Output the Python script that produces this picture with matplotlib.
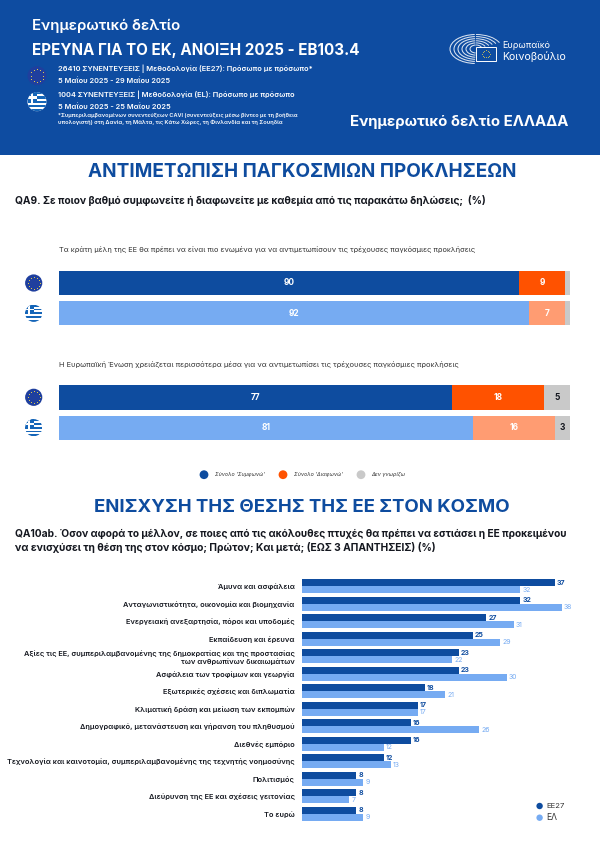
import matplotlib
matplotlib.use("Agg")
import matplotlib.pyplot as plt
from matplotlib.patches import Rectangle, Circle, Arc
import numpy as np

plt.rcParams['font.family'] = ['Inter', 'Noto Sans', 'DejaVu Sans']

# ---------- data ----------
q9_statements = [
    "Τα κράτη μέλη της ΕΕ θα πρέπει να είναι πιο ενωμένα για να αντιμετωπίσουν τις τρέχουσες παγκόσμιες προκλήσεις",
    "Η Ευρωπαϊκή Ένωση χρειάζεται περισσότερα μέσα για να αντιμετωπίσει τις τρέχουσες παγκόσμιες προκλήσεις",
]
agree_eu = [90, 77]
agree_el = [92, 81]
disagree_eu = [9, 18]
disagree_el = [7, 16]
dk_eu = [1, 5]
dk_el = [1, 3]
q9_legend = ["Σύνολο 'Συμφωνώ'", "Σύνολο 'Διαφωνώ'", "Δεν γνωρίζω"]

topics = [
    "Άμυνα και ασφάλεια",
    "Ανταγωνιστικότητα, οικονομία και βιομηχανία",
    "Ενεργειακή ανεξαρτησία, πόροι και υποδομές",
    "Εκπαίδευση και έρευνα",
    "Αξίες τις ΕΕ, συμπεριλαμβανομένης της δημοκρατίας και της προστασίας\nτων ανθρωπίνων δικαιωμάτων",
    "Ασφάλεια των τροφίμων και γεωργία",
    "Εξωτερικές σχέσεις και διπλωματία",
    "Κλιματική δράση και μείωση των εκπομπών",
    "Δημογραφικό, μετανάστευση και γήρανση του πληθυσμού",
    "Διεθνές εμπόριο",
    "Τεχνολογία και καινοτομία, συμπεριλαμβανομένης της τεχνητής νοημοσύνης",
    "Πολιτισμός",
    "Διεύρυνση της ΕΕ και σχέσεις γειτονίας",
    "Το ευρώ",
]
ee27 = [37, 32, 27, 25, 23, 23, 18, 17, 16, 16, 12, 8, 8, 8]
el = [32, 38, 31, 29, 22, 30, 21, 17, 26, 12, 13, 9, 7, 9]
q10_legend = ["ΕΕ27", "ΕΛ"]

# ---------- style ----------
NAVY = "#0E4C9F"
LIGHT = "#76ABF2"
ORANGE = "#FF5200"
LORANGE = "#FF9C72"
GREY = "#C9C9C9"
INK = "#14171F"
W, H = 600, 848

fig = plt.figure(figsize=(6.0, 8.48), dpi=100, facecolor="white")
bg = fig.add_axes([0, 0, 1, 1], zorder=0)
bg.set_xlim(0, W)
bg.set_ylim(H, 0)
bg.axis("off")
renderer = fig.canvas.get_renderer()


def fit_text(x0, x1, y, s, **kw):
    """Put text in pixel space, sized so that it spans x0..x1."""
    t = bg.text(x0, y, s, va="center", ha="left", fontsize=10, **kw)
    width = t.get_window_extent(renderer).width
    t.set_fontsize(10 * (x1 - x0) / width)
    return t


def fit_size(s, px, **kw):
    t = bg.text(0, 0, s, fontsize=10, **kw)
    width = t.get_window_extent(renderer).width
    t.remove()
    return 10 * px / width


def eu_icon(cx, cy, r):
    bg.add_patch(Circle((cx, cy), r, fc="#1F3F9E", ec="none", zorder=3))
    ang = np.deg2rad(np.arange(0, 360, 30))
    bg.scatter(cx + 0.68 * r * np.cos(ang), cy + 0.68 * r * np.sin(ang),
               s=0.5, c="#E9D24A", linewidths=0, zorder=4)


def gr_icon(cx, cy, r):
    disc = Circle((cx, cy), r, fc="white", ec="none", zorder=3)
    bg.add_patch(disc)
    h = 2 * r / 9
    for i in range(0, 9, 2):
        p = Rectangle((cx - r, cy - r + i * h), 2 * r, h, fc="#1565B8", ec="none", zorder=3.1)
        bg.add_patch(p)
        p.set_clip_path(disc)
    parts = [
        Rectangle((cx - r, cy - r), r * 1.0, 5 * h, fc="#1565B8", ec="none", zorder=3.2),
        Rectangle((cx - r, cy - r + 2 * h), r * 1.0, h, fc="white", ec="none", zorder=3.3),
        Rectangle((cx - r + 0.5 * r - h / 2, cy - r), h, 5 * h, fc="white", ec="none", zorder=3.3),
    ]
    for p in parts:
        bg.add_patch(p)
        p.set_clip_path(disc)


# ---------- header ----------
bg.add_patch(Rectangle((0, 0), W, 155, fc="#0E4CA1", ec="none", zorder=1))
head = dict(color="white", zorder=5)
fit_text(32, 180, 26, "Ενημερωτικό δελτίο", fontweight="semibold", **head)
fit_text(32, 358, 50.5, "ΕΡΕΥΝΑ ΓΙΑ ΤΟ ΕΚ, ΑΝΟΙΞΗ 2025 - ΕΒ103.4", fontweight="bold", **head)
fit_text(58, 313, 69, "26410 ΣΥΝΕΝΤΕΥΞΕΙΣ | Μεθοδολογία (ΕΕ27): Πρόσωπο με πρόσωπο*", fontweight="semibold", **head)
fit_text(58, 170, 81, "5 Μαΐου 2025 - 29 Μαΐου 2025", fontweight="semibold", **head)
fit_text(58, 295, 95, "1004 ΣΥΝΕΝΤΕΥΞΕΙΣ | Μεθοδολογία (EL): Πρόσωπο με πρόσωπο", fontweight="semibold", **head)
fit_text(58, 170, 107, "5 Μαΐου 2025 - 25 Μαΐου 2025", fontweight="semibold", **head)
fit_text(58, 298, 115, "*Συμπεριλαμβανομένων συνεντεύξεων CAVI (συνεντεύξεις μέσω βίντεο με τη βοήθεια", fontweight="semibold", **head)
fit_text(58, 284, 122.3, "υπολογιστή) στη Δανία, τη Μάλτα, τις Κάτω Χώρες, τη Φινλανδία και τη Σουηδία", fontweight="semibold", **head)
fit_text(350, 568, 122, "Ενημερωτικό δελτίο ΕΛΛΑΔΑ", fontweight="bold", **head)
fit_text(502, 550, 45.7, "Ευρωπαϊκό", **head)
fit_text(502, 566, 57, "Κοινοβούλιο", **head)
eu_icon(37, 75.7, 9.5)
gr_icon(37, 101.7, 9.5)

# parliament logo
for k in range(6):
    bg.add_patch(Arc((476, 49), 12 + 8 * k, 8 + 4.2 * k, theta1=95, theta2=265,
                     ec="white", lw=0.75, alpha=0.85, zorder=5))
    bg.add_patch(Arc((476, 49), 12 + 8 * k, 8 + 4.2 * k, theta1=270, theta2=345,
                     ec="white", lw=0.7, alpha=0.85, zorder=5))
bg.add_patch(Rectangle((476, 47), 20, 13.5, fc="#0E4CA1", ec="white", lw=0.7, zorder=6))
ang = np.deg2rad(np.arange(0, 360, 30))
bg.scatter(486 + 3.6 * np.cos(ang), 53.7 + 3.6 * np.sin(ang), s=0.35, c="#E9D24A", linewidths=0, zorder=7)

# ---------- section 1 ----------
fit_text(88, 515.5, 172.3, "ΑΝΤΙΜΕΤΩΠΙΣΗ ΠΑΓΚΟΣΜΙΩΝ ΠΡΟΚΛΗΣΕΩΝ", fontweight="bold", color=NAVY)
fit_text(15, 487, 200, "QA9. Σε ποιον βαθμό συμφωνείτε ή διαφωνείτε με καθεμία από τις παρακάτω δηλώσεις;  (%)",
         fontweight="bold", color=INK)
fit_text(59, 475.3, 250, q9_statements[0], color="#333333")
fit_text(59, 459, 364.7, q9_statements[1], color="#333333")


def stacked(top_px, idx):
    bottom_px = top_px + 54.7
    ax = fig.add_axes([59 / W, 1 - bottom_px / H, (570 - 59) / W, 54.7 / H], zorder=2)
    ax.patch.set_alpha(0)
    ax.axis("off")
    ax.set_xlim(0, 100)
    ax.set_ylim(1.4025, -0.4025)
    rows = [(agree_eu[idx], disagree_eu[idx], dk_eu[idx], NAVY, ORANGE),
            (agree_el[idx], disagree_el[idx], dk_el[idx], LIGHT, LORANGE)]
    for y, (a, d, n, c1, c2) in enumerate(rows):
        ax.barh(y, a, height=0.805, color=c1)
        ax.barh(y, d, left=a, height=0.805, color=c2)
        ax.barh(y, n, left=a + d, height=0.805, color=GREY)
        size = 6
        ax.text(a / 2, y, str(a), ha="center", va="center", color="white", fontsize=size, fontweight="bold")
        ax.text(a + d / 2, y, str(d), ha="center", va="center", color="white", fontsize=size, fontweight="bold")
        if n >= 3:
            ax.text(a + d + n / 2, y, str(n), ha="center", va="center", color=INK, fontsize=size, fontweight="bold")


stacked(270.7, 0)
stacked(385.3, 1)
for cy in (283, 397.3):
    eu_icon(33.7, cy, 8.6)
for cy in (313.3, 427.7):
    gr_icon(33.7, cy, 8.6)

for mx, col, (t0, t1), s in zip((204, 283, 361), (NAVY, ORANGE, GREY),
                               ((215, 265), (293.5, 342.5), (371.6, 405.7)), q9_legend):
    bg.add_patch(Circle((mx, 474.7), 4.4, fc=col, ec="none", zorder=3))
    fit_text(t0, t1, 474.7, s, color="#333333", style="italic")

# ---------- section 2 ----------
fit_text(94.5, 509.4, 507.7, "ΕΝΙΣΧΥΣΗ ΤΗΣ ΘΕΣΗΣ ΤΗΣ ΕΕ ΣΤΟΝ ΚΟΣΜΟ", fontweight="bold", color=NAVY)
fit_text(15, 570, 534.3,
         "QA10ab. Όσον αφορά το μέλλον, σε ποιες από τις ακόλουθες πτυχές θα πρέπει να εστιάσει η ΕΕ προκειμένου",
         fontweight="bold", color=INK)
fit_text(15, 437, 547.3,
         "να ενισχύσει τη θέση της στον κόσμο; Πρώτον; Και μετά; (ΕΩΣ 3 ΑΠΑΝΤΗΣΕΙΣ) (%)",
         fontweight="bold", color=INK)

label_size = fit_size(topics[10], 284.5, fontweight="semibold")
ax2_top, ax2_h = 579.3, 245.0
ax2 = fig.add_axes([301.6 / W, 1 - (ax2_top + ax2_h) / H, 273.6 / W, ax2_h / H], zorder=2)
ax2.patch.set_alpha(0)
ax2.set_xlim(0, 40)
ax2.set_ylim(14, 0)
for s in ax2.spines.values():
    s.set_visible(False)
ax2.xaxis.set_visible(False)
ypos = np.arange(len(topics))
ax2.barh(ypos, ee27, height=0.4, align="edge", color=NAVY)
ax2.barh(ypos + 0.4, el, height=0.4, align="edge", color=LIGHT)
ax2.set_yticks(ypos + 0.4)
ax2.set_yticklabels(topics, fontsize=label_size, fontweight="semibold", color=INK, linespacing=1.25)
ax2.tick_params(axis="y", length=0, pad=7.0 / 1.389)
for i, (a, b) in enumerate(zip(ee27, el)):
    ax2.text(a + 0.3, i + 0.19, str(a), va="center", ha="left", fontsize=5.0, fontweight="bold", color=NAVY)
    ax2.text(b + 0.3, i + 0.6, str(b), va="center", ha="left", fontsize=5.0, color=LIGHT)

for my, col, (t1), s in zip((806, 817.7), (NAVY, LIGHT), (564.5, 557), q10_legend):
    bg.add_patch(Circle((539.6, my), 3.2, fc=col, ec="none", zorder=3))
    fit_text(546, t1, my, s, color="#333333")

fig.savefig("out.png", dpi=100)
